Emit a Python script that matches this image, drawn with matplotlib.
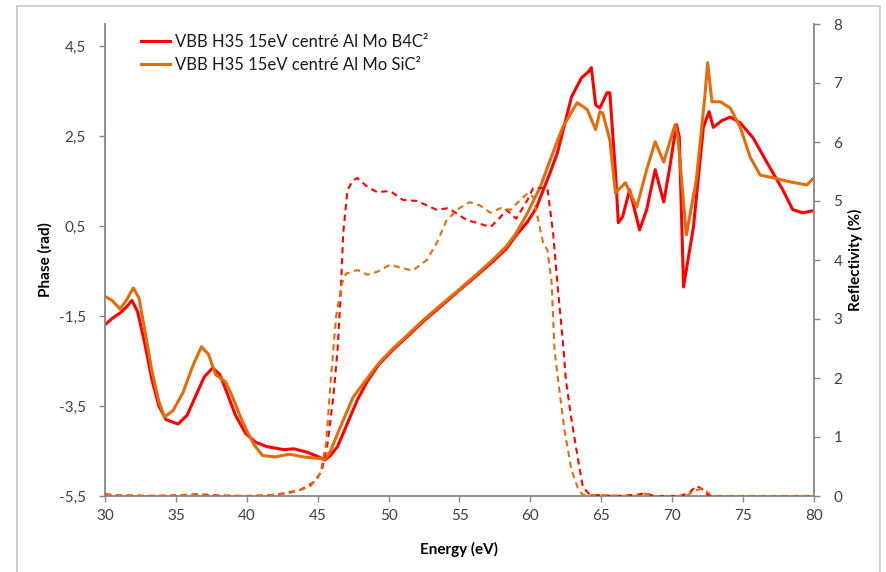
import numpy as np
import matplotlib
matplotlib.use('Agg')
import matplotlib.pyplot as plt
from matplotlib.patches import Rectangle
from matplotlib.ticker import FixedLocator, FuncFormatter

plt.rcParams['font.family'] = ['Lato', 'DejaVu Sans']

# Phase (rad), B4C stack
e_phase_b4c = [30, 30.5, 31.06, 31.5, 31.9, 32.3, 32.8, 33.3, 33.8, 34.3, 35.15, 35.8, 36.5, 37.0,
               37.6, 38.1, 38.6, 39.2, 39.9, 40.6, 41.4, 42.6, 43.3, 44.2, 45.0, 45.5, 45.9, 46.4,
               47.1, 47.8, 48.5, 49.3, 50.3, 51.5, 52.5, 53.8, 55.0, 56.2, 57.4, 58.3, 59.0, 59.8,
               60.4, 60.9, 61.4, 61.9, 62.4, 62.9, 63.6, 64.1, 64.3, 64.6, 64.9, 65.4, 65.6, 66.0,
               66.2, 66.5, 67.0, 67.7, 68.2, 68.8, 69.4, 69.8, 70.3, 70.5, 70.8, 71.5, 72.2, 72.6,
               72.9, 73.5, 74.1, 74.8, 75.7, 76.7, 77.8, 78.5, 79.2, 80.0]
phase_b4c = [-1.69, -1.55, -1.43, -1.3, -1.15, -1.4, -2.1, -2.9, -3.5, -3.8, -3.9, -3.7, -3.2, -2.85,
             -2.65, -2.8, -3.2, -3.7, -4.1, -4.3, -4.4, -4.47, -4.45, -4.52, -4.62, -4.7, -4.6, -4.4,
             -3.88, -3.36, -2.95, -2.58, -2.25, -1.9, -1.6, -1.25, -0.92, -0.6, -0.27, 0.0, 0.3, 0.6,
             0.9, 1.3, 1.7, 2.13, 2.75, 3.38, 3.8, 3.94, 4.03, 3.2, 3.13, 3.47, 3.47, 1.7,
             0.58, 0.71, 1.31, 0.42, 0.87, 1.76, 1.04, 1.76, 2.76, 2.49, -0.85, 0.49, 2.7, 3.05,
             2.7, 2.85, 2.93, 2.8, 2.47, 1.91, 1.31, 0.87, 0.8, 0.85]

# Phase (rad), SiC stack
e_phase_sic = [30, 30.5, 31.06, 31.5, 32.0, 32.4, 32.8, 33.3, 33.8, 34.2, 34.8, 35.5, 36.2, 36.8,
               37.3, 37.8, 38.5, 39.0, 39.5, 40.0, 40.5, 41.1, 42.0, 43.0, 44.0, 44.9, 45.5, 45.9,
               46.6, 47.5, 48.5, 49.3, 50.3, 51.5, 52.5, 53.8, 55.0, 56.2, 57.4, 58.3, 59.0, 59.8,
               60.7, 61.4, 62.3, 63.3, 64.0, 64.3, 64.6, 64.9, 65.1, 65.6, 66.0, 66.7, 67.5, 68.2,
               68.8, 69.4, 70.2, 70.4, 71.0, 71.7, 72.3, 72.5, 72.8, 73.4, 74.1, 74.8, 75.5, 76.2,
               77.1, 78.3, 79.5, 80.0]
phase_sic = [-1.06, -1.15, -1.34, -1.15, -0.87, -1.1, -1.8, -2.7, -3.4, -3.74, -3.6, -3.2, -2.6, -2.18,
             -2.35, -2.8, -2.96, -3.3, -3.7, -4.05, -4.35, -4.6, -4.63, -4.57, -4.63, -4.66, -4.68, -4.5,
             -3.96, -3.3, -2.88, -2.55, -2.22, -1.87, -1.57, -1.22, -0.9, -0.57, -0.23, 0.05, 0.35, 0.8,
             1.38, 1.98, 2.72, 3.25, 3.1, 2.88, 2.65, 3.05, 3.02, 2.42, 1.24, 1.47, 0.93, 1.76,
             2.38, 1.93, 2.76, 2.49, 0.31, 1.53, 3.38, 4.14, 3.27, 3.27, 3.13, 2.7, 2.04, 1.64,
             1.58, 1.49, 1.42, 1.58]

# Reflectivity (%), B4C stack
e_refl_b4c = [30, 31, 33, 35, 36.5, 38, 40, 41.5, 42.5, 43.75, 44.5, 44.9, 45.3, 45.7, 46.1, 46.4,
              46.6, 46.8, 47.1, 47.5, 47.8, 48.5, 49.2, 50.1, 51.0, 52.0, 53.4, 54.2, 55.5, 57.2,
              57.9, 58.3, 59.0, 59.8, 60.2, 61.2, 61.6, 61.9, 62.3, 62.5, 62.9, 63.4, 63.7, 64.2,
              66, 67.5, 68.1, 68.7, 70.5, 71.2, 71.7, 72.1, 72.6, 80]
refl_b4c = [0.03, 0.01, 0.0, 0.01, 0.03, 0.01, 0.0, 0.01, 0.04, 0.1, 0.2, 0.27, 0.44, 0.9, 1.68, 2.47,
            3.32, 4.46, 5.19, 5.35, 5.39, 5.24, 5.15, 5.17, 5.02, 5.0, 4.85, 4.88, 4.68, 4.56,
            4.73, 4.85, 4.7, 5.02, 5.22, 5.22, 4.46, 3.61, 2.59, 1.97, 1.29, 0.56, 0.15, 0.02,
            0.0, 0.02, 0.05, 0.0, 0.0, 0.05, 0.17, 0.12, 0.0, 0.0]

# Reflectivity (%), SiC stack
e_refl_sic = [30, 32, 34, 36, 38, 40, 42, 43.0, 44.0, 44.5, 45.2, 45.6, 45.9, 46.3, 46.7, 47.0,
              47.8, 48.5, 49.2, 50.1, 51.0, 51.7, 52.7, 53.4, 54.1, 55.0, 55.7, 56.4, 57.2, 57.9,
              58.6, 59.3, 59.8, 60.2, 60.5, 60.9, 61.2, 61.5, 61.7, 61.95, 62.4, 62.9, 63.4, 63.7,
              67.5, 68.1, 68.6, 71.0, 71.5, 72.0, 72.4, 72.8, 80]
refl_sic = [0.02, 0.01, 0.0, 0.02, 0.0, 0.0, 0.02, 0.05, 0.12, 0.17, 0.39, 0.9, 1.9, 3.05, 3.6, 3.77,
            3.83, 3.75, 3.8, 3.92, 3.86, 3.82, 4.0, 4.29, 4.68, 4.88, 4.98, 4.93, 4.8, 4.88,
            4.85, 5.02, 5.13, 5.07, 4.73, 4.29, 4.17, 3.61, 2.47, 1.97, 1.12, 0.44, 0.1, 0.02,
            0.0, 0.04, 0.0, 0.0, 0.08, 0.12, 0.08, 0.0, 0.0]

labels = ['VBB H35 15eV centré Al Mo B4C²', 'VBB H35 15eV centré Al Mo SiC²']
red = '#FF0000'
orange = '#E46C0A'
grey = '#868686'
txt = '#404040'

fig = plt.figure(figsize=(8.87, 5.72), dpi=100)
fig.patches.append(Rectangle((17 / 887, -0.01), 863 / 887, 1 - 6 / 572 + 0.01,
                             transform=fig.transFigure, fill=False, edgecolor='#C8C8C8', lw=1.2))

ax = fig.add_axes([105 / 887, 1 - 496 / 572, 709 / 887, 472 / 572])
ax2 = ax.twinx()

l1, = ax.plot(e_phase_b4c, phase_b4c, color=red, lw=2.2, solid_joinstyle='round')
l2, = ax.plot(e_phase_sic, phase_sic, color=orange, lw=2.2, solid_joinstyle='round')
ax2.plot(e_refl_b4c, refl_b4c, color=red, lw=1.5, linestyle=(0, (3, 2.2)))
ax2.plot(e_refl_sic, refl_sic, color=orange, lw=1.5, linestyle=(0, (3, 2.2)))

ax.set_xlim(30, 80)
ax.set_ylim(-5.5, 5.0)
ax2.set_ylim(0, 8)

ax.xaxis.set_major_locator(FixedLocator(np.arange(30, 81, 5)))
ax.yaxis.set_major_locator(FixedLocator([-5.5, -3.5, -1.5, 0.5, 2.5, 4.5]))
ax2.yaxis.set_major_locator(FixedLocator(np.arange(0, 9, 1)))
comma = FuncFormatter(lambda v, p: f'{v:g}'.replace('.', ','))
ax.yaxis.set_major_formatter(comma)

for a in (ax, ax2):
    for side in a.spines:
        a.spines[side].set_color(grey)
        a.spines[side].set_linewidth(1.3)
    a.spines['top'].set_visible(False)
    a.tick_params(colors=grey, labelcolor=txt, labelsize=11, length=4, width=1)
ax.spines['right'].set_visible(False)
ax2.spines['left'].set_visible(False)
ax2.spines['bottom'].set_visible(False)
ax.tick_params(axis='y', pad=10)
ax.tick_params(axis='x', pad=5)
ax2.tick_params(axis='y', pad=10)

ax.set_xlabel('Energy (eV)', fontweight='bold', fontsize=11, color='black', labelpad=14)
ax.set_ylabel('Phase (rad)', fontweight='bold', fontsize=11, color='black', labelpad=4)
ax2.set_ylabel('Reflectivity (%)', fontweight='bold', fontsize=11, color='black', labelpad=4)

leg = ax2.legend([l1, l2], labels, loc='upper left', bbox_to_anchor=(0.03, 1.01), frameon=False,
                 fontsize=12, handlelength=1.7, handletextpad=0.3, labelspacing=0.4)
for t in leg.get_texts():
    t.set_color('#1a1a1a')

fig.savefig('out.png', dpi=100)
